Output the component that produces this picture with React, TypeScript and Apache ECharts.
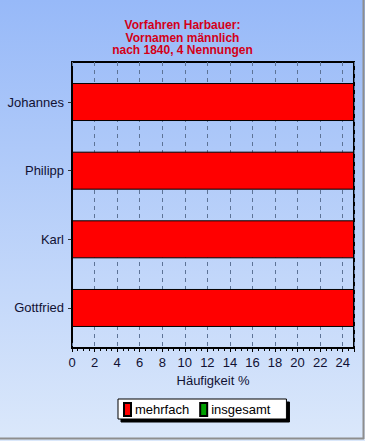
import React, { useEffect, useRef } from "react";
import * as echarts from "echarts";

const categories = ["Johannes", "Philipp", "Karl", "Gottfried"];
const mehrfach = [25, 25, 25, 25];
const insgesamt = [0, 0, 0, 0];
const seriesNames = ["mehrfach", "insgesamt"];
const titleText = "Vorfahren Harbauer:\nVornamen männlich\nnach 1840, 4 Nennungen";
const axisName = "Häufigkeit %";
const xMin = 0;
const xMax = 25;
const xInterval = 2;

export default function App() {
  const ref = useRef<HTMLDivElement>(null);
  useEffect(() => {
    document.body.style.margin = "0";
    const chart = echarts.init(ref.current!, null, { renderer: "svg" });
    const font = "'Liberation Sans', Arial, sans-serif";
    const labelColor = "#111133";
    chart.setOption({
      animation: false,
      backgroundColor: new echarts.graphic.LinearGradient(0, 0, 0, 1, [
        { offset: 0, color: "#97b9f8" },
        { offset: 1, color: "#dbe8fb" },
      ]),
      textStyle: { fontFamily: font },
      title: {
        text: titleText,
        left: "center",
        top: 14,
        textStyle: {
          fontFamily: font,
          fontSize: 12,
          fontWeight: "bold",
          color: "#d40018",
          lineHeight: 12.5,
        },
      },
      legend: {
        data: seriesNames,
        left: 118,
        top: 399,
        orient: "horizontal",
        backgroundColor: "#ffffff",
        borderColor: "#000000",
        borderWidth: 1,
        borderRadius: 0,
        shadowColor: "#000000",
        shadowOffsetX: 3,
        shadowOffsetY: 3,
        shadowBlur: 0,
        padding: [3, 16, 2, 5],
        itemWidth: 7,
        itemHeight: 13,
        itemGap: 10,
        icon: "rect",
        textStyle: { fontFamily: font, fontSize: 13, color: "#000000", padding: [0, 0, 0, -1] },
      },
      grid: [
        {
          left: 72,
          right: 11,
          top: 62,
          bottom: 93,
          show: true,
          borderColor: "#000000",
          borderWidth: 2,
          backgroundColor: "transparent",
        },
        {
          left: 72,
          right: 11,
          top: 67.7,
          bottom: 98.7,
          show: false,
        },
      ],
      xAxis: [
        {
          gridIndex: 0,
          type: "value",
          min: xMin,
          max: xMax,
          interval: xInterval,
          name: axisName,
          nameLocation: "middle",
          nameGap: 25,
          nameTextStyle: { fontFamily: font, fontSize: 13, color: labelColor },
          axisLine: { show: true, lineStyle: { color: "#000000", width: 2 } },
          axisTick: { show: true, length: 4, lineStyle: { color: "#000000" } },
          minorTick: { show: true, splitNumber: 4, length: 3, lineStyle: { color: "#000000" } },
          axisLabel: {
            fontFamily: font,
            fontSize: 13,
            color: labelColor,
            margin: 8,
            showMaxLabel: false,
          },
          splitLine: {
            show: true,
            lineStyle: { color: "#5d7396", type: [4, 4], width: 1 },
          },
        },
        {
          gridIndex: 1,
          type: "value",
          min: xMin,
          max: xMax,
          interval: xInterval,
          show: false,
          splitLine: { show: false },
        },
      ],
      yAxis: [
        {
          gridIndex: 0,
          type: "category",
          data: categories,
          show: false,
          splitLine: { show: false },
        },
        {
          gridIndex: 1,
          type: "category",
          data: categories,
          inverse: true,
          axisLine: { show: true, lineStyle: { color: "#000000", width: 2 } },
          axisTick: { show: true, alignWithLabel: true, length: 4, lineStyle: { color: "#333333" } },
          axisLabel: { fontFamily: font, fontSize: 13, color: labelColor, margin: 8 },
          splitLine: { show: false },
        },
      ],
      series: [
        {
          name: seriesNames[0],
          type: "bar",
          xAxisIndex: 1,
          yAxisIndex: 1,
          data: mehrfach,
          barWidth: 38,
          barGap: "-100%",
          itemStyle: { color: "#ff0000", borderColor: "#000000", borderWidth: 1 },
        },
        {
          name: seriesNames[1],
          type: "bar",
          xAxisIndex: 1,
          yAxisIndex: 1,
          data: insgesamt,
          barWidth: 38,
          barGap: "-100%",
          itemStyle: { color: "#00a000", borderColor: "#000000", borderWidth: 1 },
        },
      ],
      graphic: [
        { type: "line", shape: { x1: 363.5, y1: 0, x2: 363.5, y2: 439 }, style: { stroke: "#8e8e8e", lineWidth: 2 } },
        { type: "line", shape: { x1: 0, y1: 438.5, x2: 364, y2: 438.5 }, style: { stroke: "#8e8e8e", lineWidth: 2 } },
      ],
    });
    return () => chart.dispose();
  }, []);
  return <div ref={ref} style={{ position: "absolute", left: 0, top: 0, width: 365, height: 441 }} />;
}
